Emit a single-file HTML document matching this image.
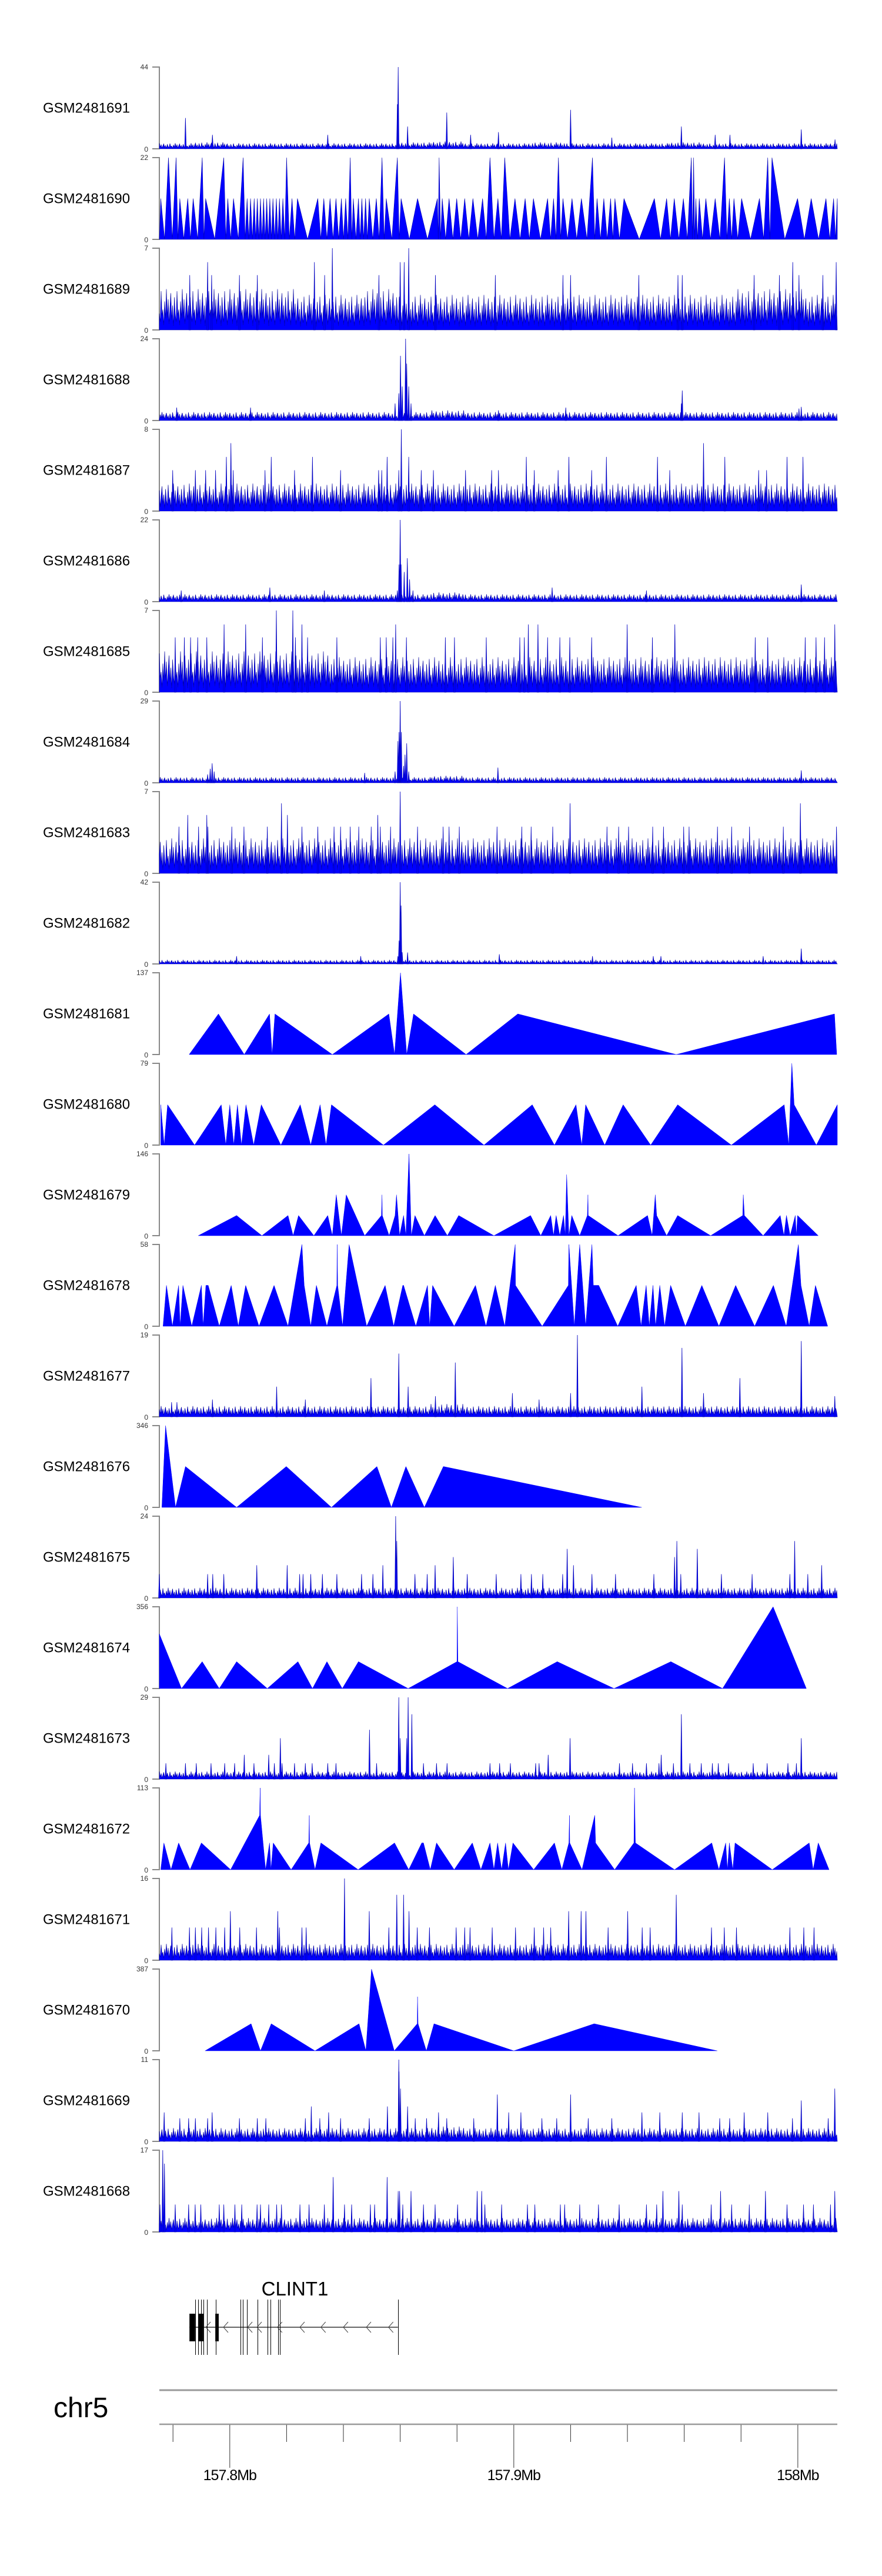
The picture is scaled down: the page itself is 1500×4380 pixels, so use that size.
<!DOCTYPE html>
<html><head><meta charset="utf-8"><title>GSM tracks chr5 CLINT1</title>
<style>
html,body{margin:0;padding:0;background:#fff;}
svg{display:block;font-family:"Liberation Sans",Arial,sans-serif;}
</style></head>
<body>
<svg id="chart" xmlns="http://www.w3.org/2000/svg" width="1500" height="4380" viewBox="0 0 1500 4380">
<rect x="0" y="0" width="1500" height="4380" fill="#fff"/>
<g id="tracks"></g>
<g id="gene"></g>
<g id="axis">
<text x="91" y="4110" font-size="48" fill="#000">chr5</text>
</g>
</svg>
<script>
// ===== data (positions in kb, offset from 157,000 kb) =====
const trackNames = ["GSM2481691","GSM2481690","GSM2481689","GSM2481688","GSM2481687","GSM2481686","GSM2481685","GSM2481684","GSM2481683","GSM2481682","GSM2481681","GSM2481680","GSM2481679","GSM2481678","GSM2481677","GSM2481676","GSM2481675","GSM2481674","GSM2481673","GSM2481672","GSM2481671","GSM2481670","GSM2481669","GSM2481668"];
const trackMax = [44,22,7,24,8,22,7,29,7,42,137,79,146,58,19,346,24,356,29,113,16,387,11,17];
const axisTicksKb = [780,800,820,840,860,880,900,920,940,960,980,1000];
const axisMajorKb = [800,900,1000];
const axisMajorLabels = ["157.8Mb","157.9Mb","158Mb"];

// noisy tracks: band level (20 bins), spike positions & values
const b1691 = [3,3.5,3,3,3,3,3,3.5,4,3,3,3.5,3,3,3,3.5,3,3,3,3];
const p1691 = [784.4,793.9,834.5,859.0,859.3,862.6,876.4,884.8,894.6,920.0,934.5,959.0,970.9,976.1,1001.2,1013.1];
const v1691 = [16.6,7.5,7.5,24,44,12,19.5,7.5,9,21,6,12,7.5,7.5,10.4,5];

const b1689 = [3.5,3.5,3.5,3.5,3,3,3.5,3,3,3,3,3,3,3,3,3,3,3.5,3.5,3];
const p1689 = [792.2,829.8,836.1,860.0,861.4,863.0,998.2,1013.5,785.9,793.6,803.4,809.7,833.4,852.5,872.4,893.5,917.3,920.0,944.0,957.8,959.3,984.6,993.5,1000.4,1008.8];
const v1689 = [5.8,5.8,7,5.8,5.8,7,5.8,5.8,4.7,4.7,4.7,4.7,4.7,4.7,4.7,4.7,4.7,4.7,4.7,4.7,4.7,4.7,4.7,4.7,4.7];

const b1688 = [2.5,2.5,2.5,2.5,2.5,2.5,2.5,2.5,3,2.5,2.5,2.5,2.5,2.5,2.5,2.5,2.5,2.5,2.5,2.5];
const p1688 = [858.2,859.5,860.1,860.7,861.9,862.3,863.0,863.8,959.3,959.0,1001.2,1000.4,807.3,781.3,918.3,894.6];
const v1688 = [5,8,19,10,24,16.7,10,5,8.8,5,4,3.5,3.8,3.8,3.8,3];

const b1687 = [2.7,2.7,2.7,2.7,2.7,2.7,2.7,2.7,2.7,2.7,2.7,2.7,2.7,2.7,2.7,2.7,2.7,2.7,2.7,2.7];
const p1687 = [860.4,800.4,966.8,798.8,814.6,829.1,855.4,863.0,904.4,919.4,932.6,950.6,974.3,996.2,1001.8,779.9,787.9,791.5,795.0,801.2,812.4,822.8,839.0,852.4,853.5,859.5,867.4,871.7,883.0,892.2,894.6,907.2,915.6,927.4,954.9,986.2,989.0];
const v1687 = [8,6.65,6.65,5.3,5.3,5.3,5.3,5.3,5.3,5.3,5.3,5.3,5.3,5.3,5.3,4,4,4,4,4,4,4,4,4,4,4,4,4,4,4,4,4,4,4,4,4,4];

const b1686 = [2,2,2,2,2,2,2,2,2.5,2,2,2,2,2,2,2,2,2,2,2];
const p1686 = [859.0,859.6,860.0,860.3,861.4,862.5,863.3,864.5,1001.2,913.5,814.1,782.9,833.3,946.7];
const v1686 = [3,10,22,10,8,11.7,6,3,4.6,3.8,3.8,3,3,3];

const b1685 = [3.5,3.5,3.5,3.5,3.5,3,3,3,3,3,3,3,3,3,3,3,3,3,3,3];
const p1685 = [816.4,822.2,798.0,805.6,825.4,858.4,905.1,908.5,939.9,956.7,1013.0,780.8,784.0,786.2,788.7,791.9,811.5,823.1,827.4,837.7,853.0,855.1,857.4,862.2,875.9,879.1,890.3,902.1,903.7,911.9,916.2,919.7,927.4,948.8,985.0,989.4,1002.6,1006.4,1009.4];
const v1685 = [7,7,5.8,5.8,5.8,5.8,5.8,5.8,5.8,5.8,5.8,4.7,4.7,4.7,4.7,4.7,4.7,4.7,4.7,4.7,4.7,4.7,4.7,4.7,4.7,4.7,4.7,4.7,4.7,4.7,4.7,4.7,4.7,4.7,4.7,4.7,4.7,4.7,4.7];

const b1684 = [2,2,2,2,2,2,2,2,2.5,2,2,2,2,2,2,2,2,2,2,2];
const p1684 = [792.2,793.1,793.8,794.5,858.2,859.2,859.6,860.0,860.4,861.2,861.7,862.3,863.0,894.4,1001.2,847.5];
const v1684 = [3,5,6.9,4,4,14.8,18,29,18,6,10,14,4,5.4,4.4,3.5];

const b1683 = [3,3,3,3,3,3,3,3,3,3,3,3,3,3,3,3,3,3,3,3];
const p1683 = [860.0,818.2,919.8,1000.9,785.2,791.9,820.3,852.1,782.1,789.0,792.3,800.7,805.0,813.2,825.4,831.0,836.7,839.0,842.4,845.4,849.8,853.0,856.6,866.1,875.1,877.2,880.8,894.1,902.8,906.1,913.7,932.8,936.9,940.4,948.9,952.7,959.8,961.7,971.7,976.7,983.0,994.9,1013.6];
const v1683 = [7,6,6,6,5,5,5,5,4,4,4,4,4,4,4,4,4,4,4,4,4,4,4,4,4,4,4,4,4,4,4,4,4,4,4,4,4,4,4,4,4,4,4];

const b1682 = [2,2,2,2,2,2,2,2,2,2,2,2,2,2,2,2,2,2,2,2];
const p1682 = [859.2,859.6,860.0,860.3,860.7,862.6,1001.2,894.9,846.1,802.4,949.1,951.8,987.8,927.7];
const v1682 = [4,12,42,30,6,5.9,7.9,5,4,4,4,4,4,4];

const b1677 = [2.5,2.5,2.5,2.5,2.5,2.5,2.5,2.5,3,2.5,2.5,2.5,2.5,2.5,2.5,2.5,2.5,2.5,2.5,2.5];
const p1677 = [922.4,1001.2,959.2,859.5,879.4,849.7,979.6,816.5,862.8,945.1,899.5,920.0,966.8,872.4,793.9,826.6,908.9,1013.0,779.5,781.4];
const v1677 = [19,17.6,16,14.7,12.6,9,9,7,7,7,5.5,5.5,5.5,4.8,4,4,4,4.8,3.4,3.4];

const b1675 = [3,3,3,3,3,3,3,3,3,3,3,3,3,3,3,3,3,3,3,3];
const p1675 = [858.4,858.8,957.4,998.9,918.8,964.6,878.7,956.6,809.5,820.2,853.9,872.3,921.0,1008.4,775.2,792.2,794.0,797.9,824.6,825.8,828.5,832.6,837.7,846.4,850.4,865.2,869.5,883.6,893.8,902.5,906.2,910.2,917.2,927.5,935.8,949.3,958.8,973.1,983.9,997.2,1003.5];
const v1675 = [24,16.7,16.7,16.7,14.4,14.4,12,12,9.6,9.6,9.6,9.6,9.6,9.6,7,7,7,7,7,7,7,7,7,7,7,7,7,7,7,7,7,7,7,7,7,7,7,7,7,7,7];

const b1673 = [2.7,2.7,2.7,2.7,2.7,2.7,2.7,2.7,2.7,2.7,2.7,2.7,2.7,2.7,2.7,2.7,2.7,2.7,2.7,2.7];
const p1673 = [859.5,862.8,864.1,959.0,849.2,817.8,919.8,1001.2,860.0,862.3,805.1,813.7,912.1,951.9,777.5,784.4,788.2,793.4,798.2,801.7,808.5,815.7,818.4,822.8,826.6,829.0,834.5,837.4,851.7,868.2,872.8,876.5,891.6,895.0,898.8,907.7,908.9,937.2,941.8,946.7,951.1,956.2,962.0,966.0,969.9,972.0,975.6,984.3,989.2,996.5,999.5];
const v1673 = [29,29,23,23,17.5,14.5,14.5,14.5,14.5,14.5,8.6,8.6,8.6,8.6,5.6,5.6,5.6,5.6,5.6,5.6,5.6,5.6,5.6,5.6,5.6,5.6,5.6,5.6,5.6,5.6,5.6,5.6,5.6,5.6,5.6,5.6,5.6,5.6,5.6,5.6,5.6,5.6,5.6,5.6,5.6,5.6,5.6,5.6,5.6,5.6,5.6];

const b1671 = [3.2,3.2,3.2,3.2,3.2,3.2,3.2,3.2,3.2,3.2,3.2,3.2,3.2,3.2,3.2,3.2,3.2,3.2,3.2,3.2];
const p1671 = [840.4,858.8,861.2,957.2,800.2,816.9,849.1,863.1,919.3,923.7,925.4,940.1,779.6,785.8,787.9,790.1,792.5,795.1,798.2,803.5,809.4,817.5,825.4,826.9,856.0,866.0,870.3,879.7,882.7,884.6,892.4,900.6,907.2,910.5,913.0,933.2,945.2,948.0,969.6,974.1,978.4,997.2,1002.1,1005.7];
const v1671 = [16,12.8,12.8,12.8,9.6,9.6,9.6,9.6,9.6,9.6,9.6,9.6,6.4,6.4,6.4,6.4,6.4,6.4,6.4,6.4,6.4,6.4,6.4,6.4,6.4,6.4,6.4,6.4,6.4,6.4,6.4,6.4,6.4,6.4,6.4,6.4,6.4,6.4,6.4,6.4,6.4,6.4,6.4,6.4];

const b1669 = [1.8,1.8,1.8,1.8,1.8,1.8,1.8,1.8,2,1.8,1.8,1.8,1.8,1.8,1.8,1.8,1.8,1.8,1.8,1.8];
const p1669 = [859.5,859.6,860.1,1013.0,894.2,920.0,1001.2,828.7,855.5,862.6,776.9,793.8,834.8,873.5,898.2,902.5,945.1,951.4,959.3,965.2,981.1,989.4,782.4,785.5,787.9,792.2,803.4,809.7,812.7,826.6,831.7,839.0,849.1,865.3,869.3,876.4,885.9,909.9,915.1,926.2,934.5,972.5,976.0,998.1,1010.7];
const v1669 = [11,9.4,7.1,7.1,6.3,6.3,5.5,4.7,4.7,4.7,3.9,3.9,3.9,3.9,3.9,3.9,3.9,3.9,3.9,3.9,3.9,3.9,3.1,3.1,3.1,3.1,3.1,3.1,3.1,3.1,3.1,3.1,3.1,3.1,3.1,3.1,3.1,3.1,3.1,3.1,3.1,3.1,3.1,3.1,3.1];

const b1668 = [2.9,2.9,2.9,2.9,2.9,2.9,2.9,2.9,2.9,2.9,2.9,2.9,2.9,2.9,2.9,2.9,2.9,2.9,2.9,2.9];
const p1668 = [776.4,777.0,836.4,855.4,859.3,859.8,863.8,887.1,888.7,952.5,958.1,972.8,988.6,1013.0,775.4,780.8,785.5,787.8,789.8,796.3,797.9,801.8,804.2,809.6,810.8,813.7,816.5,818.2,824.7,827.9,833.3,840.4,842.9,849.5,851.0,860.9,868.2,872.3,880.2,889.8,895.7,904.8,907.4,916.4,917.9,923.2,929.8,937.1,946.7,950.3,959.3,969.5,976.7,982.9,996.2,1002.0,1005.5,1011.5];
const v1668 = [17,14.2,11.4,11.4,8.5,8.5,8.5,8.5,8.5,8.5,8.5,8.5,8.5,8.5,5.7,5.7,5.7,5.7,5.7,5.7,5.7,5.7,5.7,5.7,5.7,5.7,5.7,5.7,5.7,5.7,5.7,5.7,5.7,5.7,5.7,5.7,5.7,5.7,5.7,5.7,5.7,5.7,5.7,5.7,5.7,5.7,5.7,5.7,5.7,5.7,5.7,5.7,5.7,5.7,5.7,5.7,5.7,5.7];

// GSM2481690: apex positions/values (valleys at 0 between apexes)
const p1690 = [775.7,778.4,781.1,782.4,785.2,787.1,790.3,791.5,797.9,799.3,801.3,804.7,806.1,807.3,808.6,809.7,810.8,811.9,813.0,814.1,815.2,816.4,817.5,818.7,820.0,821.9,823.8,831.0,833.1,835.3,837.4,839.3,840.8,842.4,843.5,845.3,846.5,847.8,849.1,851.6,853.6,855.1,859.0,860.3,866.1,873.1,873.7,874.8,877.2,879.9,882.7,885.6,889.0,891.6,894.4,896.8,900.4,904.0,906.9,911.9,914.0,915.7,917.3,920.5,923.8,927.7,929.3,931.7,934.1,935.6,938.8,949.5,953.8,956.5,959.7,962.5,963.3,964.1,965.3,967.6,970.9,974.2,975.9,977.5,980.2,986.5,989.4,990.9,999.9,1004.7,1009.9,1012.6,1013.9];
const v1690 = [11,22,22,11,11,11,22,11,22,11,11,22,11,11,11,11,11,11,11,11,11,11,11,11,22,11,11,11,11,11,11,11,11,22,11,11,11,11,11,11,22,11,22,11,11,11,22,11,11,11,11,11,11,22,11,22,11,11,11,11,11,22,11,11,11,22,11,11,11,11,11,11,11,11,11,22,22,11,11,11,11,22,11,11,11,11,22,22,11,11,11,11,11];

// triangle tracks: explicit vertices
const p1681 = [785.7,796.0,805.1,814.0,814.9,815.9,836.1,856.0,858.0,860.1,862.3,864.7,883.2,901.4,957.2,1012.9,1013.7];
const v1681 = [0,68,0,68,0,68,0,68,0,137,0,68,0,68,0,68,0];
const p1680 = [775.7,776.9,778.1,787.6,797.0,798.6,800.0,801.4,802.7,804.1,805.7,808.4,811.1,818.0,824.8,828.5,831.8,833.9,835.8,854.1,872.2,889.5,906.5,914.3,921.9,923.9,925.3,932.0,938.5,948.2,957.7,976.6,995.2,996.8,997.9,998.7,1006.5,1013.9];
const v1680 = [39,0,39,0,39,0,39,0,39,0,39,0,39,0,39,0,39,0,39,0,39,0,39,0,39,0,39,0,39,0,39,0,39,0,79,39,0,39];
const p1679 = [788.9,802.4,811.3,820.5,822.3,824.2,829.6,834.5,836.1,837.5,839.3,841.0,847.5,853.4,853.6,853.7,856.1,858.2,858.7,859.8,861.2,862.0,863.1,863.9,865.2,868.5,872.3,876.6,880.6,893.0,905.9,909.5,913.0,914.0,914.9,916.2,917.5,918.1,918.6,919.4,920.4,923.2,925.9,926.1,926.2,936.7,947.1,948.7,949.8,950.3,953.8,957.7,969.3,980.6,980.8,981.2,987.8,993.8,995.1,996.0,997.3,999.1,999.5,999.9,1007.2];
const v1679 = [0,36,0,36,0,36,0,36,0,73,0,73,0,36,73,36,0,36,73,0,36,0,146,0,36,0,36,0,36,0,36,0,36,0,36,0,36,0,109,0,36,0,36,73,36,0,36,0,73,36,0,36,0,36,73,36,0,36,0,36,0,36,0,36,0];
const p1678 = [776.5,777.7,779.8,782.0,782.5,783.5,786.6,790.0,790.6,791.6,792.4,796.3,800.5,803.0,805.6,810.3,815.6,820.5,825.4,826.2,828.5,830.5,834.2,837.7,837.8,838.0,839.7,842.0,848.2,854.7,857.7,860.9,861.2,865.5,869.6,870.4,871.4,879.0,886.5,890.2,893.5,896.8,900.5,900.6,910.0,919.2,919.4,921.3,923.2,925.3,927.5,928.0,929.9,936.6,943.1,944.8,946.6,947.7,949.0,949.9,951.4,953.1,955.2,960.4,966.2,972.2,978.1,984.8,991.4,995.9,1000.2,1001.1,1004.0,1006.2,1010.5];
const v1678 = [0,29,0,29,0,29,0,29,0,29,29,0,29,0,29,0,29,0,58,29,0,29,0,29,58,29,0,58,0,29,0,29,29,0,29,0,29,0,29,0,29,0,58,29,0,29,58,0,58,0,58,29,29,0,29,0,29,0,29,0,29,0,29,0,29,0,29,0,29,0,58,29,0,29,0];
const p1676 = [776.1,777.4,780.9,784.4,802.4,819.9,835.8,851.8,856.9,862.0,868.5,875.2,945.0];
const v1676 = [0,346,0,173,0,173,0,173,0,173,0,173,0];
const p1674 = [775.2,783.0,790.3,796.3,802.4,813.2,824.0,829.1,834.2,839.6,845.3,862.8,880.0,880.1,880.3,897.8,915.3,935.3,955.3,973.5,991.3,1003.0];
const v1674 = [238,0,117,0,117,0,117,0,117,0,117,0,117,356,117,0,117,0,117,0,356,0];
const p1672 = [775.7,776.8,779.3,782.0,786.0,790.0,800.3,810.5,810.7,810.8,812.6,814.0,814.5,815.3,821.6,827.8,828.0,828.1,830.0,832.1,845.2,858.0,863.0,867.6,868.2,870.6,872.8,879.0,885.4,888.4,891.6,893.0,894.3,895.7,897.1,898.1,899.7,907.0,914.3,916.9,919.4,919.6,919.7,924.0,928.5,928.8,935.5,942.3,942.5,942.8,956.6,969.7,972.2,974.6,975.2,975.9,977.1,977.9,991.0,1004.0,1005.4,1007.2,1011.0];
const v1672 = [0,37,0,37,0,37,0,75,113,75,0,37,0,37,0,37,75,37,0,37,0,37,0,37,37,0,37,0,37,0,37,0,37,0,37,0,37,0,37,0,37,75,37,0,75,37,0,37,113,37,0,37,0,37,0,37,0,37,0,37,0,37,0];
const p1670 = [791.3,807.5,810.8,814.6,830.0,845.5,847.9,849.9,857.9,866.0,866.1,866.3,869.2,871.9,900.0,928.3,971.6];
const v1670 = [0,128,0,128,0,128,0,387,0,128,256,128,0,128,0,128,0];

// CLINT1 gene model (kb)
const geneStartKb = 785.8, geneEndKb = 859.2;
const exonStartKb = [785.8,788.9,794.9];
const exonEndKb = [787.8,790.7,796.1];
const exonLineKb = [787.8,788.9,789.9,790.7,792.0,795.1,803.8,804.6,806.0,809.8,813.3,814.3,817.0,817.6,859.2];
const chevronKb = [792.4,798.6,807.1,810.4,817.6,825.5,832.9,840.8,848.9,856.7];

// ===== rendering =====
const NS = "http://www.w3.org/2000/svg";
const X0 = 271, X1 = 1424, KB0 = 775.2, KB1 = 1013.9;
const TOP0 = 114, PITCH = 154, PH = 139;
const TEXTURE = [1,0.3,0.75,0.15,0.55,0.9,0.25,0.6,0.1,0.8,0.4,0.2,0.95,0.35,0.5,0.12,0.7,0.28];
const xs = kb => X0 + (kb - KB0) / (KB1 - KB0) * (X1 - X0);
const clampX = x => Math.max(X0, Math.min(X1, x));
function mk(tag, attrs, parent) {
  const el = document.createElementNS(NS, tag);
  for (const k in attrs) el.setAttribute(k, attrs[k]);
  parent.appendChild(el);
  return el;
}
const tracksG = document.getElementById('tracks');
const geneG = document.getElementById('gene');
const axisG = document.getElementById('axis');

const noisy = {0:[b1691,p1691,v1691],2:[b1689,p1689,v1689],3:[b1688,p1688,v1688],4:[b1687,p1687,v1687],5:[b1686,p1686,v1686],6:[b1685,p1685,v1685],7:[b1684,p1684,v1684],8:[b1683,p1683,v1683],9:[b1682,p1682,v1682],14:[b1677,p1677,v1677],16:[b1675,p1675,v1675],18:[b1673,p1673,v1673],20:[b1671,p1671,v1671],22:[b1669,p1669,v1669],23:[b1668,p1668,v1668]};
const tri = {10:[p1681,v1681],11:[p1680,v1680],12:[p1679,v1679],13:[p1678,v1678],15:[p1676,v1676],17:[p1674,v1674],19:[p1672,v1672],21:[p1670,v1670]};

trackNames.forEach((name, i) => {
  const top = TOP0 + i * PITCH, base = top + PH, max = trackMax[i];
  const ys = v => base - Math.min(v, max) / max * PH;
  const g = mk('g', {}, tracksG);
  
  
  const lab = mk('text', {x: 73, y: top + PH / 2 + 8, 'font-size': 24, fill: '#000'}, g);
  lab.textContent = name;
  
  
  const ax = mk('path', {d: `M259,${top}H${X0}V${base}H259`, fill: 'none', stroke: '#888', 'stroke-width': 2}, g);
  
  
  const t1 = mk('text', {x: 252, y: top + 4, 'font-size': 12, fill: '#333', 'text-anchor': 'end'}, g);
  t1.textContent = String(max);
  
  
  const t0 = mk('text', {x: 252, y: base + 5, 'font-size': 12, fill: '#333', 'text-anchor': 'end'}, g);
  t0.textContent = '0';
  
  

  if (noisy[i]) {
    const [band, sp, sv] = noisy[i];
    let d = `M${X0},${base}`;
    let k = 0;
    for (let x = X0; x <= X1; x += 1.5, k++) {
      const bin = Math.min(band.length - 1, Math.floor((x - X0) / (X1 - X0) * band.length));
      const v = band[bin] * TEXTURE[(k + i * 5) % TEXTURE.length];
      d += `L${x.toFixed(1)},${ys(v).toFixed(1)}`;
    }
    d += `L${X1},${base}Z`;
    const bp = mk('path', {d: d, fill: '#0000ff', stroke: '#00009a', 'stroke-width': 0.6}, g);
    
    
    let sd = '';
    sp.forEach((p, j) => {
      const x = xs(p);
      sd += `M${(x - 1.3).toFixed(1)},${base}L${x.toFixed(1)},${ys(sv[j]).toFixed(1)}L${(x + 1.3).toFixed(1)},${base}Z`;
    });
    const spk = mk('path', {d: sd, fill: '#0000ff', stroke: '#0000c0', 'stroke-width': 0.8}, g);
    
    
  } else if (i === 1) {
    let prevX = X0;
    let d = `M${X0},${base}`;
    p1690.forEach((p, j) => {
      const x = clampX(xs(p));
      if (j > 0) d += `L${((prevX + x) / 2).toFixed(1)},${base}`;
      d += `L${x.toFixed(1)},${ys(v1690[j]).toFixed(1)}`;
      prevX = x;
    });
    d += `L${X1},${base}Z`;
    const sp = mk('path', {d: d, fill: '#0000ff', stroke: '#0000b0', 'stroke-width': 0.6}, g);
    
    
  } else if (tri[i]) {
    const [pp, vv] = tri[i];
    let d = `M${clampX(xs(pp[0])).toFixed(1)},${base}`;
    pp.forEach((p, j) => { d += `L${clampX(xs(p)).toFixed(1)},${ys(vv[j]).toFixed(1)}`; });
    d += `L${clampX(xs(pp[pp.length - 1])).toFixed(1)},${base}Z`;
    const sp = mk('path', {d: d, fill: '#0000ff', stroke: '#0000ff', 'stroke-width': 0.5}, g);
    
    
  }
});

// gene model
{
  const gy = 3957;
  const lbl = mk('text', {x: (xs(geneStartKb) + xs(geneEndKb)) / 2 + 2, y: 3903, 'font-size': 33, fill: '#000', 'text-anchor': 'middle'}, geneG);
  lbl.textContent = 'CLINT1';
  
  
  const ln = mk('line', {x1: xs(geneStartKb), x2: xs(geneEndKb), y1: gy, y2: gy, stroke: '#333', 'stroke-width': 1.5}, geneG);
  
  
  exonStartKb.forEach((s, j) => {
    const r = mk('rect', {x: xs(s), y: 3934, width: Math.max(3, xs(exonEndKb[j]) - xs(s)), height: 47, fill: '#000'}, geneG);
    
    
  });
  exonLineKb.forEach(k => {
    const l = mk('line', {x1: Math.round(xs(k)) + 0.5, x2: Math.round(xs(k)) + 0.5, y1: 3910, y2: 4004, stroke: '#000', 'stroke-width': 1}, geneG);
    
    
  });
  chevronKb.forEach(k => {
    const x = xs(k);
    const c = mk('path', {d: `M${x + 4},${gy - 9}L${x - 4},${gy}L${x + 4},${gy + 9}`, fill: 'none', stroke: '#444', 'stroke-width': 1}, geneG);
    
    
  });
}

// genome axis
{
  const l1 = mk('line', {x1: X0, x2: X1, y1: 4064, y2: 4064, stroke: '#999', 'stroke-width': 3}, axisG);
  
  
  const l2 = mk('line', {x1: X0, x2: X1, y1: 4122, y2: 4122, stroke: '#999', 'stroke-width': 2.5}, axisG);
  
  
  axisTicksKb.forEach(k => {
    const major = axisMajorKb.indexOf(k) >= 0;
    const t = mk('line', {x1: xs(k), x2: xs(k), y1: 4123, y2: major ? 4196 : 4152, stroke: '#333', 'stroke-width': 1}, axisG);
    
    
  });
  axisMajorKb.forEach((k, j) => {
    const t = mk('text', {x: xs(k), y: 4217, 'font-size': 25, fill: '#000', 'text-anchor': 'middle', 'letter-spacing': '-1'}, axisG);
    t.textContent = axisMajorLabels[j];
    
    
  });
}
</script>
</body></html>
